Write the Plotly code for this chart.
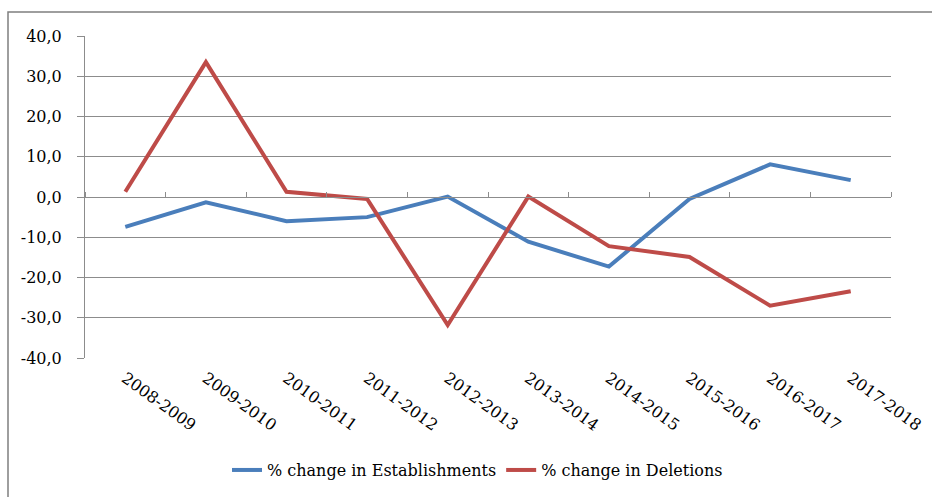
import plotly.graph_objects as go

categories = ["2008-2009", "2009-2010", "2010-2011", "2011-2012", "2012-2013",
              "2013-2014", "2014-2015", "2015-2016", "2016-2017", "2017-2018"]
establishments = [-7.4, -1.3, -6.0, -5.0, 0.1, -11.1, -17.3, -0.5, 8.1, 4.2]
deletions = [1.3, 33.5, 1.3, -0.5, -31.8, 0.1, -12.2, -14.9, -27.0, -23.4]
ytick_vals = [-40, -30, -20, -10, 0, 10, 20, 30, 40]
ytick_text = ["-40,0", "-30,0", "-20,0", "-10,0", "0,0", "10,0", "20,0", "30,0", "40,0"]

FONT = "DejaVu Serif"
GRID = "#8c8c8c"
FS = 16

fig = go.Figure()
fig.add_trace(go.Scatter(x=categories, y=establishments, mode="lines",
                         name="% change in Establishments",
                         line=dict(color="#4A7EBB", width=4)))
fig.add_trace(go.Scatter(x=categories, y=deletions, mode="lines",
                         name="% change in Deletions",
                         line=dict(color="#BE4B48", width=4)))
# invisible helper trace to carry the category axis drawn at y = 0
fig.add_trace(go.Scatter(x=categories, y=establishments, mode="lines", xaxis="x2",
                         opacity=0, showlegend=False, hoverinfo="skip",
                         line=dict(width=0)))

fig.update_layout(
    width=932, height=497,
    margin=dict(l=85, r=41, t=36, b=139, autoexpand=False),
    paper_bgcolor="white", plot_bgcolor="white",
    font=dict(family=FONT, size=FS, color="black"),
    showlegend=True,
    legend=dict(orientation="h", x=0.487, xanchor="center", y=-0.348, yanchor="middle",
                font=dict(family=FONT, size=16, color="black"),
                tracegroupgap=0),
    xaxis=dict(type="category", range=[-0.5, 9.5], showgrid=False, showline=False,
               ticks="", tickangle=36, tickfont=dict(family=FONT, size=FS),
               zeroline=False, automargin=False, ticklabelstandoff=7),
    xaxis2=dict(type="category", overlaying="x", anchor="free", position=0.5,
                side="top", range=[-0.5, 9.5], showgrid=False, showline=True,
                linecolor=GRID, linewidth=1, ticks="outside", tickson="boundaries",
                ticklen=5, tickcolor=GRID, showticklabels=False, zeroline=False,
                automargin=False),
    yaxis=dict(range=[-40, 40], tickvals=ytick_vals, ticktext=ytick_text,
               showgrid=True, gridcolor=GRID, gridwidth=1, zeroline=False,
               showline=True, linecolor=GRID, linewidth=1, ticks="outside",
               ticklen=7, tickcolor=GRID, tickfont=dict(family=FONT, size=FS),
               automargin=False, ticklabelstandoff=12),
)

# outer chart border
fig.add_shape(type="rect", xref="paper", yref="paper",
              x0=-77/806, x1=1.06, y0=-0.45, y1=346/322,
              line=dict(color="#7f7f7f", width=1.5), fillcolor="rgba(0,0,0,0)",
              layer="below")

fig.write_html("out.html", config={"displayModeBar": False},
               post_script="document.body.style.margin='0';")
